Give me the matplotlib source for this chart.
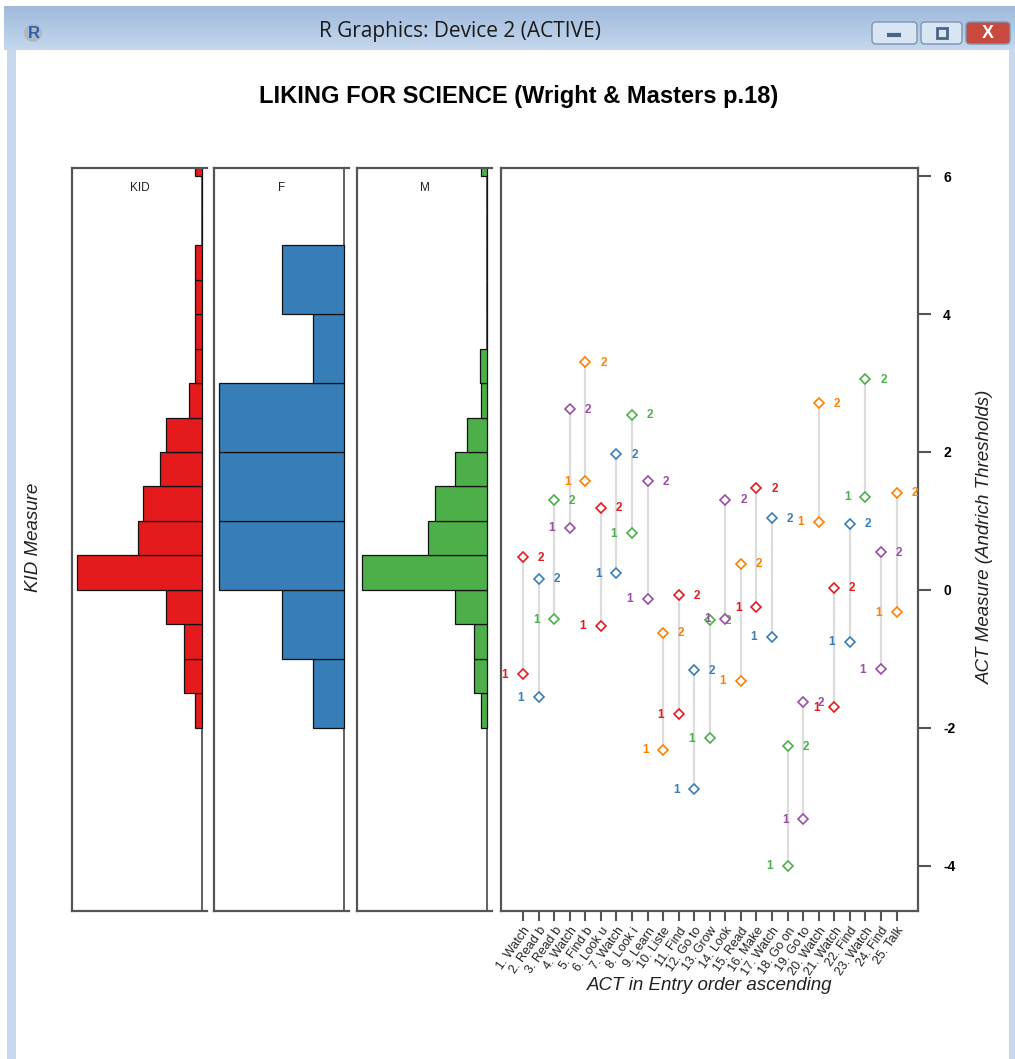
import matplotlib.pyplot as plt
import numpy as np
from matplotlib.colors import LinearSegmentedColormap
from matplotlib.patches import Rectangle, FancyBboxPatch, Circle

plt.rcParams['font.family'] = ['Liberation Sans', 'DejaVu Sans']

W, H = 1015, 1059

# histogram of person (KID) measures, by group
kid_edges = [-2.0, -1.5, -1.0, -0.5, 0.0, 0.5, 1.0, 1.5, 2.0, 2.5, 3.0, 3.5, 4.0, 4.5, 5.0, 5.5, 6.0]
kid_counts = [1, 2.8, 2.7, 5.4, 19, 9.8, 9, 6.4, 5.4, 1.9, 1, 1, 1, 1, 0, 0, 1]
f_edges = [-2, -1, 0, 1, 2, 3, 4]
f_counts = [1, 2, 4, 4, 4, 1, 2]
m_edges = [-2.0, -1.5, -1.0, -0.5, 0.0, 0.5, 1.0, 1.5, 2.0, 2.5, 3.0, 3.5, 4.0, 4.5, 5.0, 5.5, 6.0]
m_counts = [1, 2, 2, 5, 19.7, 9.3, 8.2, 5, 3.1, 0.9, 1.1, 0, 0, 0, 0, 0, 1]

# item (ACT) Andrich thresholds, entry order
items = ["1. Watch", "2. Read b", "3. Read b", "4. Watch", "5. Find b",
         "6. Look u", "7. Watch", "8. Look i", "9. Learn", "10. Liste",
         "11. Find", "12. Go to", "13. Grow", "14. Look", "15. Read",
         "16. Make", "17. Watch", "18. Go on", "19. Go to", "20. Watch",
         "21. Watch", "22. Find", "23. Watch", "24. Find", "25. Talk"]
thr1 = [-1.22, -1.56, -0.43, 0.90, 1.58, -0.52, 0.24, 0.82, -0.13, -2.32,
        -1.80, -2.89, -2.15, -0.42, -1.32, -0.25, -0.68, -4.00, -3.33, 0.99,
        -1.70, -0.75, 1.35, -1.15, -0.32]
thr2 = [0.47, 0.16, 1.30, 2.62, 3.30, 1.19, 1.97, 2.54, 1.58, -0.62,
        -0.08, -1.17, -0.44, 1.31, 0.38, 1.48, 1.04, -2.27, -1.63, 2.71,
        0.03, 0.96, 3.06, 0.55, 1.41]

palette = ['#E41A1C', '#377EB8', '#4DAF4A', '#984EA3', '#FF7F00']
frame_col = '#555555'
ylim = (-4.66, 6.12)


def px_rect(x0, y0, x1, y1):
    return [x0 / W, 1 - y1 / H, (x1 - x0) / W, (y1 - y0) / H]


fig = plt.figure(figsize=(W / 100, H / 100), dpi=100)

# window chrome of the R graphics device
bg = fig.add_axes([0, 0, 1, 1], zorder=-10)
bg.set_xlim(0, W)
bg.set_ylim(H, 0)
bg.axis('off')
tb_cmap = LinearSegmentedColormap.from_list('tb', ['#A0BADB', '#C4D8EE'])
bg.imshow(np.linspace(0, 1, 60).reshape(-1, 1), extent=(4, W, 50, 6),
          cmap=tb_cmap, aspect='auto')
bg.add_patch(Rectangle((7, 50), 9, H - 50, color='#C6D9EF', lw=0))
bg.add_patch(Rectangle((W - 6, 50), 6, H - 50, color='#C6D9EF', lw=0))
bg.text(460, 32, 'R Graphics: Device 2 (ACTIVE)', ha='center', va='center',
        fontsize=15, color='#1A1A1A', family=['Open Sans', 'DejaVu Sans'])
bg.add_patch(Circle((33, 33), 9, color='#B0B8C4', lw=0))
bg.text(34, 33, 'R', ha='center', va='center', fontsize=12, fontweight='bold',
        color='#2A64B0')
for x0, x1, fc in [(872, 917, '#D8E5F3'), (921, 962, '#D8E5F3'), (966, 1010, '#C8493E')]:
    bg.add_patch(FancyBboxPatch((x0, 22), x1 - x0, 22, boxstyle='round,pad=0,rounding_size=4',
                                fc=fc, ec='#7D94B3', lw=1))
bg.plot([887, 901], [35, 35], color='#4A6488', lw=3, solid_capstyle='butt')
bg.add_patch(Rectangle((937, 28), 10, 10, fc='none', ec='#4A6488', lw=2))
bg.text(988, 33, 'X', ha='center', va='center', fontsize=13, fontweight='bold', color='white')

# histogram panels
hist_specs = [('KID', kid_edges, kid_counts, 0.5, palette[0], (72, 207)),
              ('F', f_edges, f_counts, 1.0, palette[1], (214, 349)),
              ('M', m_edges, m_counts, 0.5, palette[2], (357, 492))]
for name, edges, counts, bw, col, (x0, x1) in hist_specs:
    ax = fig.add_axes(px_rect(x0, 168, x1, 911))
    ax.barh(edges, counts, height=bw, left=0, align='edge', color=col,
            edgecolor='#111111', linewidth=0.9, zorder=2)
    top = max(counts)
    ax.set_xlim(top * 1.04, -top * 0.04)
    ax.set_ylim(*ylim)
    ax.axvline(0, color=frame_col, lw=1.3, zorder=1)
    ax.set_xticks([])
    ax.set_yticks([])
    ax.spines['right'].set_visible(False)
    for s in ['left', 'top', 'bottom']:
        ax.spines[s].set_color(frame_col)
        ax.spines[s].set_linewidth(1.6)
    ax.text(0.5, 0.973, name, transform=ax.transAxes, ha='center', va='center',
            fontsize=8.5, color='#222222')

# threshold panel
ax = fig.add_axes(px_rect(501, 168, 918, 911))
xs = np.arange(1, len(items) + 1)
ax.vlines(xs, thr1, thr2, color='#DCDCDC', lw=1.6, zorder=1)
for i, x in enumerate(xs):
    col = palette[i % len(palette)]
    ax.plot([x, x], [thr1[i], thr2[i]], 'D', ms=5, mfc='white', mec=col,
            mew=1.2, ls='none', zorder=3)
    ax.annotate('1', (x, thr1[i]), xytext=(-13, -0.5), textcoords='offset points',
                ha='center', va='center', color=col, fontsize=8.5, fontweight='bold')
    ax.annotate('2', (x, thr2[i]), xytext=(13, -0.5), textcoords='offset points',
                ha='center', va='center', color=col, fontsize=8.5, fontweight='bold')

ax.set_xlim(-0.42, 26.38)
ax.set_ylim(*ylim)
ax.yaxis.tick_right()
ax.set_yticks([-4, -2, 0, 2, 4, 6])
ax.set_yticklabels(['-4', '-2', '0', '2', '4', '6'], fontweight='bold', fontsize=10)
ax.tick_params(axis='y', length=9, width=1.5, color=frame_col, pad=9)
ax.set_xticks(xs)
ax.set_xticklabels(items, rotation=55, ha='right', va='top', rotation_mode='anchor',
                   fontsize=9, color='#222222')
ax.tick_params(axis='x', length=7, width=1.5, color=frame_col, pad=3)
for s in ax.spines.values():
    s.set_color(frame_col)
    s.set_linewidth(1.6)

# titles
fig.text(519 / W, 1 - 97 / H, 'LIKING FOR SCIENCE (Wright & Masters p.18)',
         ha='center', va='center', fontsize=17, fontweight='bold')
fig.text(33 / W, 1 - 537 / H, 'KID Measure', rotation=90, ha='center', va='center',
         fontsize=13.5, style='italic', color='#222222')
fig.text(985 / W, 1 - 537 / H, 'ACT Measure (Andrich Thresholds)', rotation=90,
         ha='center', va='center', fontsize=13.5, style='italic', color='#222222')
fig.text(710 / W, 1 - 985 / H, 'ACT in Entry order ascending', ha='center', va='center',
         fontsize=13.5, style='italic', color='#222222')

fig.savefig('out.png', dpi=100)
